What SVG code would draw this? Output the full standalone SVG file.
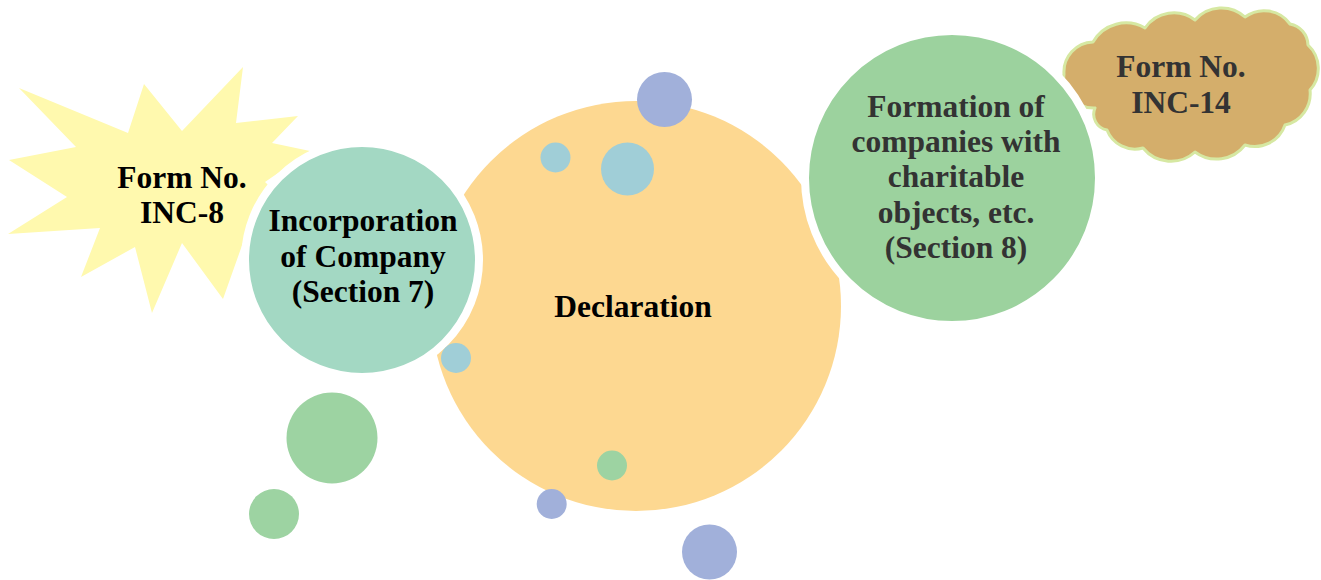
<svg xmlns="http://www.w3.org/2000/svg" width="1321" height="580" viewBox="0 0 1321 580">
  <style>
    .lbl { font-family: "Liberation Serif", "Times New Roman", serif; font-weight: bold; font-size: 31.5px; text-anchor: middle; }
    .dark { fill: #000000; }
    .grey { fill: #333333; }
    .ring { stroke: #ffffff; stroke-width: 8; }
    .blue { fill: #A1B0DA; }
    .aqua { fill: #A0CED7; }
    .mint { fill: #9DD3A2; }
  </style>

  <rect width="1321" height="580" fill="#ffffff"/>

  <!-- starburst: Form No. INC-8 -->
  <g id="form-inc-8">
    <polygon fill="#FFF9AE" points="19,88 128,133 144,84 182,131 243,67 236,123 298,116 272,143 310,151 265,182 300,215 245,237 223,299 182,243 152,313 135,247 81,277 100,228 8,234 67,197 9,160 76,147"/>
  </g>

  <!-- cloud: Form No. INC-14 -->
  <g id="form-inc-14">
    <path fill="#D4AE6B" stroke="#D6E8A2" stroke-width="3" stroke-linejoin="round"
      d="M1064,74 A30,30 0 0 1 1093,42 A38,38 0 0 1 1145,28 A35,35 0 0 1 1195,20 A35,35 0 0 1 1245,17 A32,32 0 0 1 1290,24 A22,22 0 0 1 1308,45 A32,32 0 0 1 1310,90 A32,32 0 0 1 1285,125 A32,32 0 0 1 1245,145 A36,36 0 0 1 1195,152 A36,36 0 0 1 1143,148 A30,30 0 0 1 1107,130 A16,16 0 0 1 1095,108 A30,30 0 0 1 1064,74 Z"/>
  </g>

  <!-- central node -->
  <g id="declaration">
    <circle cx="636" cy="306" r="205" fill="#FDD891"/>
  </g>

  <!-- Section 7 node -->
  <g id="section-7">
    <circle class="ring" cx="362" cy="260" r="117" fill="#A3D8C3"/>
  </g>

  <!-- Section 8 node -->
  <g id="section-8">
    <circle class="ring" cx="952" cy="178" r="147" fill="#9CD29E"/>
  </g>

  <!-- decorative bubbles -->
  <g id="bubbles">
    <circle class="blue" cx="664.5" cy="99.5" r="27.5"/>
    <circle class="aqua" cx="555.5" cy="157.5" r="15"/>
    <circle class="aqua" cx="627.5" cy="169" r="26.5"/>
    <circle class="aqua" cx="456" cy="358" r="15"/>
    <circle class="mint" cx="612" cy="465.5" r="15"/>
    <circle class="blue" cx="551.7" cy="504" r="15"/>
    <circle class="blue" cx="709.5" cy="552" r="27.5"/>
    <circle class="mint" cx="332" cy="438" r="45.5"/>
    <circle class="mint" cx="274" cy="514" r="25"/>
  </g>

  <g id="connectors"/>

  <!-- labels -->
  <g id="labels">
    <text class="lbl dark" x="182" y="188">Form No.</text>
    <text class="lbl dark" x="182" y="223">INC-8</text>

    <text class="lbl dark" x="363" y="231">Incorporation</text>
    <text class="lbl dark" x="363" y="267">of Company</text>
    <text class="lbl dark" x="363" y="302">(Section 7)</text>

    <text class="lbl dark" x="633" y="317">Declaration</text>

    <text class="lbl grey" x="956" y="117">Formation of</text>
    <text class="lbl grey" x="956" y="152">companies with</text>
    <text class="lbl grey" x="956" y="187">charitable</text>
    <text class="lbl grey" x="956" y="223">objects, etc.</text>
    <text class="lbl grey" x="956" y="258">(Section 8)</text>

    <text class="lbl grey" x="1181" y="77">Form No.</text>
    <text class="lbl grey" x="1181" y="113">INC-14</text>
  </g>
</svg>
